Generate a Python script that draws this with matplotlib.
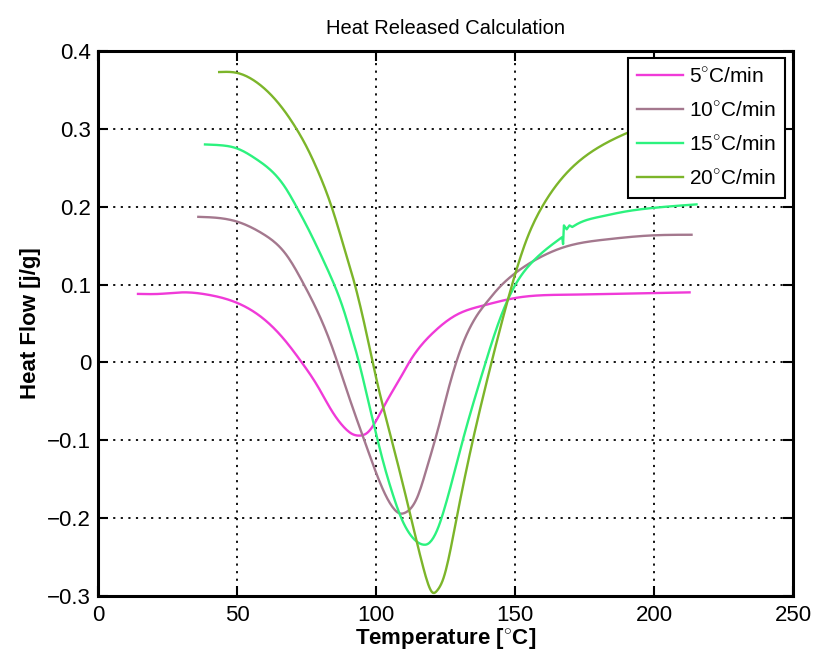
import matplotlib
matplotlib.use("Agg")
import matplotlib.pyplot as plt
import numpy as np

plt.rcParams['font.family'] = ['Liberation Sans', 'DejaVu Sans']
plt.rcParams['mathtext.fontset'] = 'custom'
plt.rcParams['mathtext.rm'] = 'Liberation Sans'
plt.rcParams['mathtext.bf'] = 'Liberation Sans:bold'

# Heating rate 5 °C/min
t5 = [14.4, 22, 31.2, 39.5, 49.7, 59.9, 67.1, 73.1, 79.1, 83.9, 88.7, 91.5, 94.1, 97,
      100.2, 104, 108.6, 112.1, 120.5, 128.9, 138.5, 150.5, 168.5, 198.4, 212.8]
q5 = [0.088, 0.088, 0.090, 0.087, 0.077, 0.055, 0.029, 0.001, -0.031, -0.061, -0.084,
      -0.092, -0.094, -0.090, -0.074, -0.049, -0.021, 0.001, 0.038, 0.061, 0.073, 0.083,
      0.087, 0.089, 0.090]

# Heating rate 10 °C/min
t10 = [36.1, 42, 49.9, 59.4, 67.8, 73.8, 79.8, 84.6, 88.2, 92, 96.6, 102.6, 106, 108.6,
       110.5, 112.1, 115, 118.1, 122.9, 126, 128.5, 131, 134, 137, 140, 144, 148.1, 156.5,
       168.5, 182.9, 198.4, 213.5]
q10 = [0.187, 0.186, 0.181, 0.165, 0.138, 0.102, 0.059, 0.016, -0.022, -0.062, -0.108,
       -0.164, -0.186, -0.194, -0.193, -0.189, -0.172, -0.138, -0.078, -0.035, -0.004,
       0.022, 0.046, 0.064, 0.078, 0.095, 0.109, 0.130, 0.149, 0.158, 0.163, 0.164]

# Heating rate 15 °C/min
t15 = [38.5, 44, 49.9, 57, 63, 67.5, 71.4, 75, 78.6, 82, 85.2, 88.5, 91.2, 93.6, 96.6,
       100.2, 103, 106.1, 109, 112.1, 115, 116.9, 118.7, 120.5, 122.5, 124.1, 131.3, 137.9,
       144.5, 150.5, 156.5, 162.5, 167.0]
q15 = [0.280, 0.279, 0.275, 0.261, 0.244, 0.224, 0.200, 0.176, 0.150, 0.124, 0.098,
       0.066, 0.034, 0.004, -0.040, -0.094, -0.133, -0.170, -0.199, -0.220, -0.231, -0.234,
       -0.233, -0.226, -0.211, -0.194, -0.099, -0.018, 0.055, 0.102, 0.130, 0.149, 0.161]
# sensor glitch near 167 °C, kept as raw samples
t15_glitch = [167.0, 167.3, 167.6, 168.6, 169.6, 170.6]
q15_glitch = [0.161, 0.152, 0.176, 0.171, 0.176, 0.174]
t15_tail = [170.6, 172.5, 180.4, 190, 198.4, 215.3]
q15_tail = [0.174, 0.178, 0.187, 0.194, 0.198, 0.203]

# Heating rate 20 °C/min
t20 = [43.6, 49.9, 57, 64.2, 71.4, 75.6, 78.6, 84.5, 88.5, 92.4, 96.6, 100.2, 106.1, 112.1,
       116.9, 119, 120.5, 122, 124.1, 128.9, 134.9, 140.3, 148.1, 154.1, 160.1, 168.5, 180.4,
       191.8, 203, 214]
q20 = [0.373, 0.372, 0.360, 0.336, 0.300, 0.273, 0.250, 0.195, 0.148, 0.100, 0.037, -0.022,
       -0.106, -0.192, -0.262, -0.287, -0.296, -0.293, -0.279, -0.202, -0.099, -0.018, 0.089,
       0.157, 0.202, 0.243, 0.277, 0.297, 0.312, 0.322]

labels = ['5$^{\\circ}$C/min', '10$^{\\circ}$C/min', '15$^{\\circ}$C/min', '20$^{\\circ}$C/min']
colors = ['#f03ad8', '#a4788e', '#2cf27e', '#7cb52a']
xticks = [0, 50, 100, 150, 200, 250]
yticks = [-0.3, -0.2, -0.1, 0, 0.1, 0.2, 0.3, 0.4]
ytick_labels = ['\u22120.3', '\u22120.2', '\u22120.1', '0', '0.1', '0.2', '0.3', '0.4']


def spline(t, q, n=400):
    """Natural cubic spline through the samples, evaluated on a dense grid."""
    t = np.asarray(t, float)
    q = np.asarray(q, float)
    k = len(t)
    h = np.diff(t)
    A = np.zeros((k, k))
    r = np.zeros(k)
    A[0, 0] = A[-1, -1] = 1.0
    for i in range(1, k - 1):
        A[i, i - 1] = h[i - 1]
        A[i, i] = 2 * (h[i - 1] + h[i])
        A[i, i + 1] = h[i]
        r[i] = 6 * ((q[i + 1] - q[i]) / h[i] - (q[i] - q[i - 1]) / h[i - 1])
    M = np.linalg.solve(A, r)
    xs = np.linspace(t[0], t[-1], n)
    idx = np.clip(np.searchsorted(t, xs) - 1, 0, k - 2)
    x0, x1 = t[idx], t[idx + 1]
    hh = x1 - x0
    a = (x1 - xs) / hh
    b = (xs - x0) / hh
    ys = (a * q[idx] + b * q[idx + 1]
          + ((a**3 - a) * M[idx] + (b**3 - b) * M[idx + 1]) * hh**2 / 6)
    return xs, ys


fig = plt.figure(figsize=(8.15, 6.6), dpi=100)
ax = fig.add_axes([0.1202, 0.097, 0.8528, 0.8257])

x, y = spline(t5, q5)
ax.plot(x, y, color=colors[0], lw=1.7, label=labels[0])
x, y = spline(t10, q10)
ax.plot(x, y, color=colors[1], lw=1.7, label=labels[1])
xa, ya = spline(t15, q15)
xb, yb = spline(t15_tail, q15_tail)
ax.plot(np.concatenate([xa, t15_glitch, xb]), np.concatenate([ya, q15_glitch, yb]),
        color=colors[2], lw=1.7, label=labels[2])
x, y = spline(t20, q20)
ax.plot(x, y, color=colors[3], lw=1.7, label=labels[3])

ax.set_xlim(0, 250)
ax.set_ylim(-0.3, 0.4)
ax.set_xticks(xticks)
ax.set_yticks(yticks)
ax.set_xticklabels([str(v) for v in xticks])
ax.set_yticklabels(ytick_labels)
ax.tick_params(direction='in', length=7, width=1.5, top=True, right=True, labelsize=16)
ax.tick_params(axis='x', pad=6.5)
ax.tick_params(axis='y', pad=5)
ax.grid(True, color='black', linestyle=(0, (1.2, 3)), linewidth=1.3)
for s in ax.spines.values():
    s.set_linewidth(2.2)

ax.set_title('Heat Released Calculation', fontsize=14.5, pad=12)
ax.set_xlabel('Temperature [$^{\\circ}$C]', fontsize=16, fontweight='bold', labelpad=0)
ax.set_ylabel('Heat Flow [j/g]', fontsize=16, fontweight='bold', labelpad=4)

leg = ax.legend(loc='upper right', bbox_to_anchor=(0.9885, 0.9875), fontsize=15,
                frameon=True, fancybox=False, edgecolor='black', framealpha=1,
                handlelength=2.2, borderpad=0.45, labelspacing=0.7, handletextpad=0.3,
                borderaxespad=0)
leg.get_frame().set_linewidth(1.5)

fig.savefig('out.png', dpi=100)
